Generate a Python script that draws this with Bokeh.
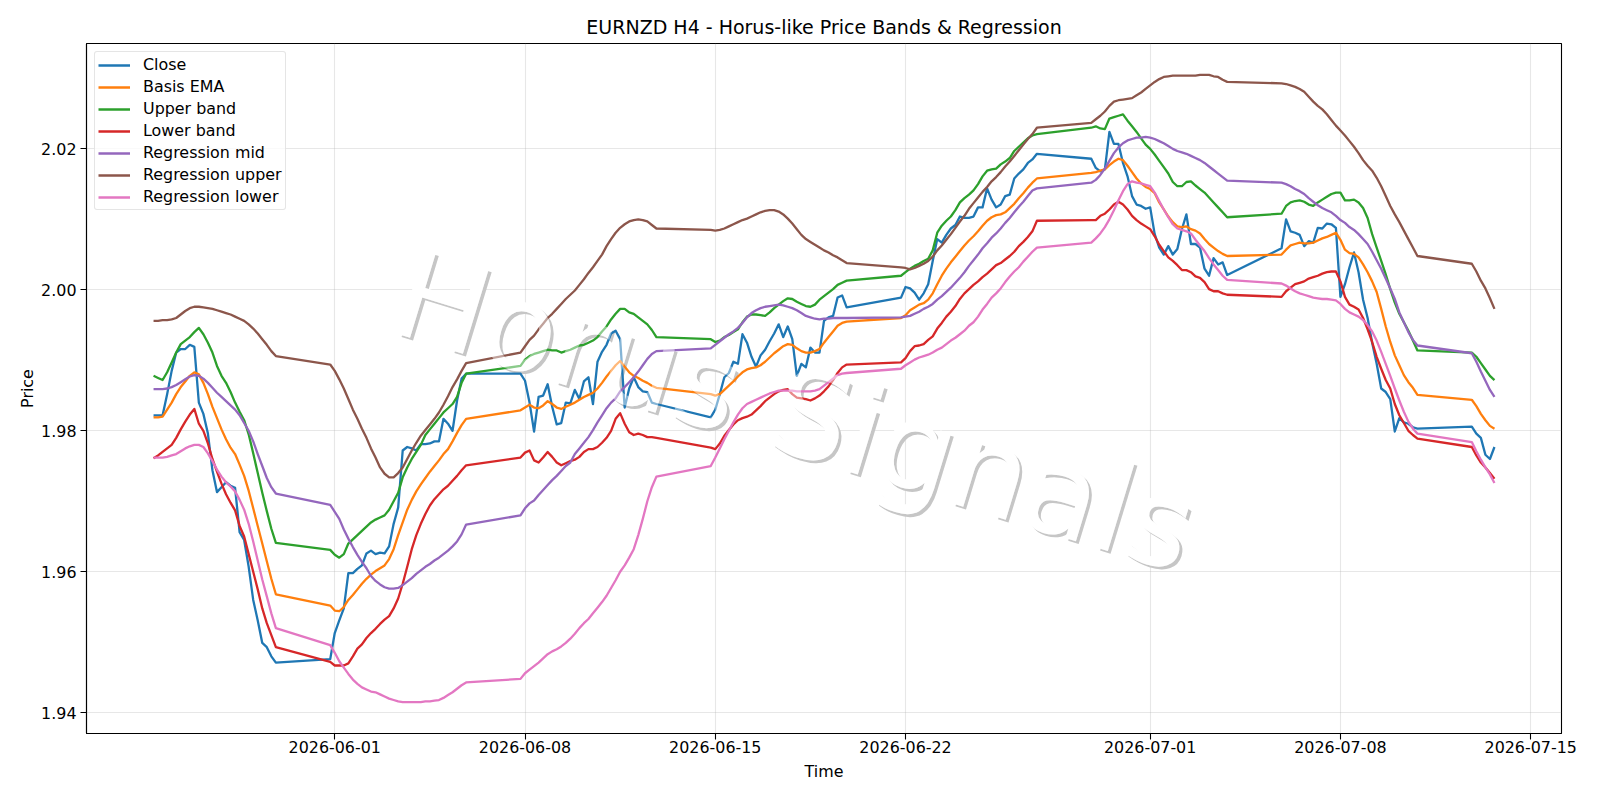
import numpy as np
import pandas as pd
from bokeh.plotting import figure
from bokeh.models import (Range1d, FixedTicker, DatetimeTickFormatter, PrintfTickFormatter,
                          Legend, LegendItem, ColumnDataSource)
from bokeh.embed import file_html
from bokeh.resources import INLINE
from bokeh.core.properties import value

# ---------------- data ----------------
# H4 bars: Mon-Fri plus the Sunday 20:00 open bar
_all = pd.date_range("2026-05-25 08:00", "2026-07-13 16:00", freq="4h")
time = _all[(_all.dayofweek < 5) | ((_all.dayofweek == 6) & (_all.hour == 20))]

close = [
    1.9822, 1.9822, 1.9822, 1.9852, 1.9885, 1.9911, 1.9916, 1.9916, 1.9922, 1.9919, 1.9840, 1.9824, 1.9796, 1.9744,
    1.9713, 1.9720, 1.9727, 1.9722, 1.9719, 1.9656, 1.9645, 1.9607, 1.9560, 1.9531, 1.9499, 1.9493, 1.9480, 1.9471,
    1.9476, 1.9513, 1.9531, 1.9548, 1.9598, 1.9598, 1.9604, 1.9609, 1.9626, 1.9630, 1.9625, 1.9627, 1.9626, 1.9636,
    1.9668, 1.9691, 1.9772, 1.9777, 1.9775, 1.9772, 1.9781, 1.9781, 1.9782, 1.9785, 1.9785, 1.9817, 1.9810, 1.9800,
    1.9843, 1.9874, 1.9881,
    1.9881, 1.9871, 1.9840, 1.9799, 1.9848, 1.9850, 1.9866, 1.9834, 1.9809, 1.9811, 1.9840, 1.9839, 1.9858, 1.9845,
    1.9870, 1.9876, 1.9838, 1.9898, 1.9912, 1.9922, 1.9938, 1.9942, 1.9930, 1.9833, 1.9860, 1.9876, 1.9862, 1.9856,
    1.9855, 1.9840, 1.9838,
    1.9819, 1.9830, 1.9852, 1.9876, 1.9882, 1.9898, 1.9895, 1.9937, 1.9925, 1.9905, 1.9891, 1.9907, 1.9915, 1.9927,
    1.9938, 1.9951, 1.9933, 1.9948, 1.9930, 1.9878, 1.9895, 1.9890, 1.9918, 1.9911, 1.9911, 1.9956, 1.9961, 1.9963,
    1.9989, 1.9992, 1.9975,
    1.9989, 2.0004, 2.0002, 1.9996, 1.9986, 1.9995, 2.0008, 2.0041, 2.0072, 2.0067, 2.0078, 2.0087, 2.0092, 2.0104,
    2.0102, 2.0102, 2.0104, 2.0117, 2.0117, 2.0144, 2.0128, 2.0117, 2.0121, 2.0133, 2.0135, 2.0158, 2.0165, 2.0171,
    2.0180, 2.0185, 2.0193,
    2.0186, 2.0173, 2.0168, 2.0171, 2.0224, 2.0207, 2.0207, 2.0180, 2.0161, 2.0133, 2.0121, 2.0119, 2.0115, 2.0117,
    2.0079, 2.0060, 2.0050, 2.0062, 2.0050, 2.0058, 2.0086, 2.0107, 2.0065, 2.0065, 2.0060, 2.0030, 2.0020, 2.0045,
    2.0036, 2.0039, 2.0021,
    2.0059, 2.0100, 2.0083, 2.0081, 2.0078, 2.0062, 2.0069, 2.0067, 2.0088, 2.0087, 2.0094, 2.0093, 2.0088, 1.9990,
    2.0008, 2.0032, 2.0053, 2.0025, 1.9986, 1.9960, 1.9925, 1.9895, 1.9860, 1.9855, 1.9845, 1.9799, 1.9818, 1.9812,
    1.9810, 1.9805, 1.9803,
    1.9806, 1.9796, 1.9790, 1.9766, 1.9760, 1.9777,
]

basis_ema = [
    1.9819, 1.9819, 1.9820, 1.9830, 1.9840, 1.9852, 1.9862, 1.9870, 1.9878, 1.9883, 1.9880, 1.9868, 1.9852, 1.9834,
    1.9818, 1.9802, 1.9788, 1.9776, 1.9767, 1.9752, 1.9736, 1.9715, 1.9690, 1.9665, 1.9640, 1.9615, 1.9590, 1.9568,
    1.9552, 1.9545, 1.9544, 1.9550, 1.9560, 1.9567, 1.9575, 1.9583, 1.9590, 1.9596, 1.9601, 1.9605, 1.9609, 1.9618,
    1.9632, 1.9652, 1.9670, 1.9688, 1.9702, 1.9714, 1.9724, 1.9733, 1.9742, 1.9750, 1.9758, 1.9767, 1.9774, 1.9785,
    1.9797, 1.9808, 1.9817,
    1.9829, 1.9833, 1.9837, 1.9833, 1.9832, 1.9836, 1.9842, 1.9838, 1.9833, 1.9831, 1.9834, 1.9837, 1.9840, 1.9844,
    1.9848, 1.9851, 1.9854, 1.9860, 1.9868, 1.9877, 1.9885, 1.9893, 1.9899, 1.9891, 1.9883, 1.9878, 1.9875, 1.9871,
    1.9868, 1.9864, 1.9861,
    1.9852, 1.9850, 1.9852, 1.9858, 1.9864, 1.9870, 1.9877, 1.9883, 1.9887, 1.9889, 1.9890, 1.9893, 1.9898, 1.9904,
    1.9910, 1.9915, 1.9920, 1.9923, 1.9922, 1.9917, 1.9913, 1.9911, 1.9911, 1.9913, 1.9916, 1.9925, 1.9933, 1.9941,
    1.9949, 1.9953, 1.9955,
    1.9960, 1.9964, 1.9971, 1.9975, 1.9979, 1.9981, 1.9986, 1.9995, 2.0008, 2.0020, 2.0030, 2.0039, 2.0047, 2.0055,
    2.0063, 2.0070, 2.0076, 2.0083, 2.0091, 2.0098, 2.0103, 2.0106, 2.0107, 2.0110, 2.0116, 2.0122, 2.0130, 2.0137,
    2.0145, 2.0152, 2.0158,
    2.0166, 2.0167, 2.0169, 2.0171, 2.0177, 2.0182, 2.0186, 2.0184, 2.0176, 2.0167, 2.0158, 2.0151, 2.0146, 2.0143,
    2.0137, 2.0124, 2.0114, 2.0104, 2.0096, 2.0090, 2.0089, 2.0090, 2.0086, 2.0084, 2.0080, 2.0072, 2.0065, 2.0060,
    2.0055, 2.0051, 2.0048,
    2.0050, 2.0057, 2.0063, 2.0065, 2.0067, 2.0066, 2.0066, 2.0067, 2.0070, 2.0073, 2.0075, 2.0078, 2.0081, 2.0071,
    2.0057, 2.0052, 2.0051, 2.0046, 2.0036, 2.0025, 2.0012, 1.9997, 1.9973, 1.9948, 1.9926, 1.9907, 1.9893, 1.9879,
    1.9869, 1.9861, 1.9851,
    1.9844, 1.9835, 1.9824, 1.9815, 1.9807, 1.9803,
]

upper_band = [
    1.9878, 1.9875, 1.9872, 1.9883, 1.9897, 1.9911, 1.9923, 1.9928, 1.9933, 1.9940, 1.9946, 1.9937, 1.9925, 1.9911,
    1.9892, 1.9878, 1.9868, 1.9855, 1.9840, 1.9827, 1.9815, 1.9795, 1.9768, 1.9740, 1.9712, 1.9686, 1.9661, 1.9641,
    1.9631, 1.9624, 1.9620, 1.9625, 1.9640, 1.9646, 1.9652, 1.9658, 1.9664, 1.9670, 1.9674, 1.9677, 1.9680, 1.9688,
    1.9700, 1.9712, 1.9734, 1.9748, 1.9760, 1.9770, 1.9780, 1.9794, 1.9802, 1.9810, 1.9818, 1.9826, 1.9832, 1.9838,
    1.9848, 1.9868, 1.9881,
    1.9892, 1.9901, 1.9906, 1.9909, 1.9911, 1.9913, 1.9915, 1.9914, 1.9914, 1.9911, 1.9913, 1.9915, 1.9918, 1.9921,
    1.9922, 1.9925, 1.9928, 1.9933, 1.9941, 1.9948, 1.9958, 1.9966, 1.9973, 1.9973, 1.9968, 1.9966, 1.9961, 1.9956,
    1.9951, 1.9943, 1.9933,
    1.9930, 1.9926, 1.9928, 1.9933, 1.9936, 1.9940, 1.9944, 1.9954, 1.9962, 1.9965, 1.9965, 1.9964, 1.9963, 1.9968,
    1.9974, 1.9979, 1.9984, 1.9988, 1.9987, 1.9983, 1.9980, 1.9977, 1.9976, 1.9979, 1.9986, 1.9991, 1.9996, 2.0001,
    2.0007, 2.0010, 2.0013,
    2.0020, 2.0025, 2.0030, 2.0034, 2.0037, 2.0041, 2.0044, 2.0056, 2.0081, 2.0091, 2.0098, 2.0104, 2.0113, 2.0124,
    2.0130, 2.0135, 2.0141, 2.0150, 2.0161, 2.0169, 2.0171, 2.0172, 2.0178, 2.0182, 2.0187, 2.0197, 2.0203, 2.0209,
    2.0215, 2.0219, 2.0221,
    2.0230, 2.0232, 2.0229, 2.0228, 2.0243, 2.0245, 2.0247, 2.0249, 2.0240, 2.0232, 2.0224, 2.0215, 2.0206, 2.0200,
    2.0192, 2.0183, 2.0174, 2.0165, 2.0153, 2.0147, 2.0147, 2.0153, 2.0154, 2.0148, 2.0143, 2.0138, 2.0131, 2.0124,
    2.0117, 2.0110, 2.0103,
    2.0108, 2.0119, 2.0124, 2.0126, 2.0127, 2.0125, 2.0121, 2.0119, 2.0124, 2.0128, 2.0132, 2.0136, 2.0138, 2.0138,
    2.0127, 2.0127, 2.0128, 2.0124, 2.0116, 2.0102, 2.0079, 2.0060, 2.0041, 2.0022, 2.0001, 1.9982, 1.9966, 1.9954,
    1.9942, 1.9928, 1.9914,
    1.9911, 1.9905, 1.9896, 1.9887, 1.9878, 1.9872,
]

lower_band = [
    1.9761, 1.9765, 1.9770, 1.9775, 1.9780, 1.9790, 1.9802, 1.9813, 1.9823, 1.9831, 1.9810, 1.9800, 1.9782, 1.9760,
    1.9742, 1.9725, 1.9710, 1.9698, 1.9687, 1.9665, 1.9650, 1.9625, 1.9600, 1.9575, 1.9548, 1.9527, 1.9510, 1.9493,
    1.9472, 1.9467, 1.9467, 1.9467, 1.9470, 1.9480, 1.9491, 1.9497, 1.9506, 1.9513, 1.9519, 1.9526, 1.9532, 1.9537,
    1.9548, 1.9562, 1.9583, 1.9607, 1.9632, 1.9652, 1.9668, 1.9682, 1.9694, 1.9703, 1.9710, 1.9717, 1.9722, 1.9729,
    1.9736, 1.9744, 1.9751,
    1.9762, 1.9769, 1.9772, 1.9758, 1.9755, 1.9762, 1.9770, 1.9763, 1.9755, 1.9751, 1.9754, 1.9757, 1.9759, 1.9763,
    1.9770, 1.9774, 1.9774, 1.9777, 1.9783, 1.9790, 1.9800, 1.9817, 1.9825, 1.9810, 1.9798, 1.9794, 1.9796, 1.9794,
    1.9791, 1.9791, 1.9790,
    1.9776, 1.9774, 1.9782, 1.9793, 1.9801, 1.9809, 1.9815, 1.9818, 1.9820, 1.9823, 1.9829, 1.9835, 1.9842, 1.9847,
    1.9852, 1.9856, 1.9858, 1.9859, 1.9852, 1.9847, 1.9846, 1.9845, 1.9843, 1.9846, 1.9850, 1.9856, 1.9863, 1.9872,
    1.9882, 1.9890, 1.9894,
    1.9897, 1.9903, 1.9913, 1.9920, 1.9921, 1.9923, 1.9929, 1.9934, 1.9945, 1.9953, 1.9962, 1.9969, 1.9977, 1.9987,
    1.9995, 2.0001, 2.0007, 2.0012, 2.0018, 2.0023, 2.0029, 2.0035, 2.0038, 2.0043, 2.0048, 2.0054, 2.0062, 2.0068,
    2.0075, 2.0083, 2.0098,
    2.0099, 2.0099, 2.0105, 2.0108, 2.0114, 2.0121, 2.0125, 2.0121, 2.0114, 2.0105, 2.0099, 2.0094, 2.0090, 2.0086,
    2.0076, 2.0064, 2.0055, 2.0046, 2.0041, 2.0035, 2.0028, 2.0028, 2.0025, 2.0019, 2.0017, 2.0011, 2.0001, 1.9998,
    1.9998, 1.9995, 1.9993,
    1.9990, 1.9998, 2.0003, 2.0008, 2.0010, 2.0012, 2.0016, 2.0018, 2.0020, 2.0023, 2.0025, 2.0026, 2.0026, 2.0012,
    1.9990, 1.9979, 1.9976, 1.9972, 1.9960, 1.9944, 1.9926, 1.9905, 1.9888, 1.9872, 1.9860, 1.9838, 1.9822, 1.9811,
    1.9800, 1.9794, 1.9789,
    1.9777, 1.9765, 1.9755, 1.9748, 1.9740, 1.9732,
]

regression_mid = [
    1.9859, 1.9859, 1.9859, 1.9860, 1.9862, 1.9865, 1.9869, 1.9873, 1.9877, 1.9879, 1.9878, 1.9874, 1.9868, 1.9861,
    1.9854, 1.9848, 1.9842, 1.9836, 1.9830, 1.9822, 1.9811, 1.9800, 1.9785, 1.9767, 1.9750, 1.9733, 1.9720, 1.9711,
    1.9695, 1.9685, 1.9675, 1.9660, 1.9647, 1.9635, 1.9624, 1.9614, 1.9605, 1.9594, 1.9587, 1.9582, 1.9578, 1.9576,
    1.9576, 1.9577, 1.9581, 1.9586, 1.9591, 1.9597, 1.9602, 1.9607, 1.9611, 1.9616, 1.9620, 1.9625, 1.9630, 1.9636,
    1.9643, 1.9653, 1.9667,
    1.9680, 1.9690, 1.9697, 1.9701, 1.9709, 1.9716, 1.9723, 1.9730, 1.9736, 1.9743, 1.9750, 1.9755, 1.9767, 1.9775,
    1.9783, 1.9791, 1.9801, 1.9812, 1.9822, 1.9832, 1.9840, 1.9846, 1.9856, 1.9862, 1.9869, 1.9876, 1.9884, 1.9893,
    1.9902, 1.9909, 1.9913,
    1.9917, 1.9922, 1.9927, 1.9932, 1.9937, 1.9941, 1.9946, 1.9953, 1.9961, 1.9967, 1.9971, 1.9974, 1.9976, 1.9977,
    1.9978, 1.9979, 1.9978, 1.9976, 1.9974, 1.9971, 1.9967, 1.9963, 1.9961, 1.9959, 1.9958, 1.9959, 1.9959, 1.9960,
    1.9960, 1.9960, 1.9960,
    1.9961, 1.9962, 1.9963, 1.9966, 1.9969, 1.9973, 1.9976, 1.9980, 1.9986, 1.9991, 1.9997, 2.0003, 2.0010, 2.0017,
    2.0025, 2.0034, 2.0042, 2.0050, 2.0059, 2.0066, 2.0074, 2.0080, 2.0087, 2.0095, 2.0102, 2.0110, 2.0118, 2.0125,
    2.0133, 2.0141, 2.0144,
    2.0152, 2.0156, 2.0163, 2.0172, 2.0183, 2.0194, 2.0202, 2.0208, 2.0212, 2.0214, 2.0216, 2.0216, 2.0217, 2.0216,
    2.0214, 2.0211, 2.0208, 2.0204, 2.0200, 2.0197, 2.0195, 2.0193, 2.0190, 2.0187, 2.0184, 2.0180, 2.0175, 2.0170,
    2.0165, 2.0160, 2.0155,
    2.0152, 2.0150, 2.0147, 2.0143, 2.0140, 2.0136, 2.0130, 2.0125, 2.0120, 2.0116, 2.0113, 2.0110, 2.0105, 2.0099,
    2.0095, 2.0089, 2.0085, 2.0079, 2.0072, 2.0065, 2.0054, 2.0042, 2.0030, 2.0016, 2.0002, 1.9987, 1.9968, 1.9954,
    1.9940, 1.9929, 1.9921,
    1.9910, 1.9898, 1.9884, 1.9871, 1.9858, 1.9848,
]

regression_upper = [
    1.9956, 1.9956, 1.9957, 1.9957, 1.9958, 1.9960, 1.9965, 1.9970, 1.9974, 1.9976, 1.9976, 1.9975, 1.9974, 1.9973,
    1.9971, 1.9969, 1.9967, 1.9965, 1.9962, 1.9959, 1.9956, 1.9951, 1.9945, 1.9938, 1.9930, 1.9922, 1.9913, 1.9906,
    1.9894, 1.9885, 1.9873, 1.9860, 1.9845, 1.9830, 1.9817, 1.9803, 1.9790, 1.9775, 1.9762, 1.9748, 1.9739, 1.9734,
    1.9734, 1.9740, 1.9748, 1.9760, 1.9772, 1.9783, 1.9793, 1.9801, 1.9809, 1.9817, 1.9826, 1.9837, 1.9849, 1.9862,
    1.9873, 1.9885, 1.9896,
    1.9911, 1.9920, 1.9929, 1.9935, 1.9944, 1.9952, 1.9960, 1.9966, 1.9973, 1.9980, 1.9987, 1.9993, 1.9999, 2.0007,
    2.0015, 2.0024, 2.0032, 2.0041, 2.0050, 2.0062, 2.0072, 2.0081, 2.0088, 2.0093, 2.0097, 2.0099, 2.0100, 2.0099,
    2.0097, 2.0092, 2.0087,
    2.0085, 2.0084, 2.0085, 2.0087, 2.0090, 2.0093, 2.0096, 2.0099, 2.0101, 2.0104, 2.0107, 2.0110, 2.0112, 2.0113,
    2.0113, 2.0111, 2.0107, 2.0101, 2.0094, 2.0086, 2.0078, 2.0072, 2.0068, 2.0064, 2.0060, 2.0056, 2.0053, 2.0049,
    2.0046, 2.0042, 2.0038,
    2.0032, 2.0031, 2.0029, 2.0031, 2.0034, 2.0037, 2.0041, 2.0047, 2.0056, 2.0063, 2.0071, 2.0079, 2.0088, 2.0097,
    2.0105, 2.0115, 2.0123, 2.0131, 2.0139, 2.0146, 2.0154, 2.0160, 2.0167, 2.0175, 2.0182, 2.0190, 2.0198, 2.0206,
    2.0214, 2.0221, 2.0230,
    2.0237, 2.0242, 2.0247, 2.0253, 2.0261, 2.0267, 2.0269, 2.0270, 2.0271, 2.0272, 2.0276, 2.0280, 2.0285, 2.0290,
    2.0295, 2.0299, 2.0302, 2.0303, 2.0304, 2.0304, 2.0304, 2.0304, 2.0304, 2.0304, 2.0305, 2.0305, 2.0305, 2.0303,
    2.0302, 2.0298, 2.0295,
    2.0293, 2.0292, 2.0290, 2.0288, 2.0285, 2.0281, 2.0274, 2.0267, 2.0261, 2.0256, 2.0249, 2.0241, 2.0233, 2.0226,
    2.0219, 2.0211, 2.0203, 2.0194, 2.0184, 2.0176, 2.0169, 2.0159, 2.0147, 2.0133, 2.0119, 2.0107, 2.0096, 2.0084,
    2.0072, 2.0060, 2.0048,
    2.0037, 2.0026, 2.0013, 2.0002, 1.9988, 1.9973,
]

regression_lower = [
    1.9762, 1.9762, 1.9762, 1.9763, 1.9765, 1.9767, 1.9771, 1.9775, 1.9778, 1.9780, 1.9780, 1.9777, 1.9768, 1.9757,
    1.9745, 1.9735, 1.9727, 1.9721, 1.9714, 1.9702, 1.9688, 1.9668, 1.9643, 1.9616, 1.9589, 1.9565, 1.9541, 1.9520,
    1.9496, 1.9485, 1.9473, 1.9464, 1.9455, 1.9447, 1.9441, 1.9436, 1.9433, 1.9430, 1.9429, 1.9426, 1.9423, 1.9420,
    1.9418, 1.9416, 1.9415, 1.9415, 1.9415, 1.9415, 1.9415, 1.9416, 1.9416, 1.9417, 1.9418, 1.9421, 1.9425, 1.9429,
    1.9434, 1.9439, 1.9443,
    1.9448, 1.9456, 1.9461, 1.9466, 1.9471, 1.9477, 1.9483, 1.9487, 1.9490, 1.9494, 1.9499, 1.9505, 1.9512, 1.9520,
    1.9527, 1.9533, 1.9541, 1.9549, 1.9557, 1.9566, 1.9577, 1.9588, 1.9600, 1.9609, 1.9620, 1.9632, 1.9652, 1.9675,
    1.9700, 1.9720, 1.9735,
    1.9750, 1.9762, 1.9775, 1.9788, 1.9800, 1.9812, 1.9823, 1.9832, 1.9838, 1.9841, 1.9844, 1.9847, 1.9850, 1.9853,
    1.9855, 1.9857, 1.9857, 1.9857, 1.9857, 1.9856, 1.9856, 1.9856, 1.9856, 1.9857, 1.9859, 1.9864, 1.9869, 1.9874,
    1.9879, 1.9881, 1.9882,
    1.9888, 1.9893, 1.9897, 1.9901, 1.9904, 1.9906, 1.9908, 1.9911, 1.9915, 1.9918, 1.9923, 1.9928, 1.9932, 1.9937,
    1.9942, 1.9949, 1.9954, 1.9962, 1.9972, 1.9980, 1.9989, 1.9995, 2.0002, 2.0011, 2.0019, 2.0026, 2.0032, 2.0040,
    2.0047, 2.0054, 2.0060,
    2.0067, 2.0073, 2.0080, 2.0089, 2.0100, 2.0113, 2.0127, 2.0140, 2.0150, 2.0154, 2.0152, 2.0151, 2.0149, 2.0147,
    2.0138, 2.0126, 2.0114, 2.0103, 2.0093, 2.0087, 2.0085, 2.0083, 2.0080, 2.0071, 2.0063, 2.0055, 2.0045, 2.0036,
    2.0028, 2.0020, 2.0014,
    2.0009, 2.0006, 2.0002, 1.9998, 1.9995, 1.9993, 1.9991, 1.9989, 1.9988, 1.9987, 1.9987, 1.9986, 1.9985, 1.9980,
    1.9973, 1.9968, 1.9965, 1.9962, 1.9957, 1.9950, 1.9941, 1.9928, 1.9912, 1.9895, 1.9878, 1.9860, 1.9843, 1.9827,
    1.9813, 1.9803, 1.9796,
    1.9784, 1.9771, 1.9759, 1.9748, 1.9738, 1.9726,
]

series_names = ["Close", "Basis EMA", "Upper band", "Lower band",
                "Regression mid", "Regression upper", "Regression lower"]
series_values = [close, basis_ema, upper_band, lower_band,
                 regression_mid, regression_upper, regression_lower]
series_colors = ["#1f77b4", "#ff7f0e", "#2ca02c", "#d62728", "#9467bd", "#8c564b", "#e377c2"]

x_tick_dates = ["2026-06-01", "2026-06-08", "2026-06-15", "2026-06-22",
                "2026-07-01", "2026-07-08", "2026-07-15"]
y_ticks = [1.94, 1.96, 1.98, 2.00, 2.02]

title_text = "EURNZD H4 - Horus-like Price Bands & Regression"
watermark_text = "Horus Signals"

for v in series_values:
    assert len(v) == len(time), (len(v), len(time))

# ---------------- figure ----------------
FONT = "DejaVu Sans"
FS = "15.9px"

def ms(ts):
    return pd.Timestamp(ts).value / 1e6

t0, t1 = ms(time[0]), ms(time[-1])
xpad = 0.05 * (t1 - t0)
all_vals = np.concatenate([np.asarray(v) for v in series_values])
ymin, ymax = all_vals.min(), all_vals.max()
ypad = 0.05 * (ymax - ymin)

p = figure(width=1600, height=800, x_axis_type="datetime",
           x_range=Range1d(t0 - xpad, t1 + xpad),
           y_range=Range1d(ymin - ypad, ymax + ypad),
           output_backend="svg", toolbar_location=None,
           min_border_left=86, min_border_right=39, min_border_top=43, min_border_bottom=67)

p.background_fill_color = "white"
p.border_fill_color = "white"
p.outline_line_color = "black"
p.outline_line_width = 1.1

p.title.text = title_text
p.title.align = "center"
p.title.text_font = FONT
p.title.text_font_size = "19px"
p.title.text_font_style = "normal"
p.title.text_color = "black"
p.title.standoff = 12

# watermark placement (fractions of the plot frame)
wm_fx, wm_fy = 0.4805, 0.466
wx = (t0 - xpad) + wm_fx * ((t1 + xpad) - (t0 - xpad))
wy = (ymin - ypad) + wm_fy * ((ymax + ypad) - (ymin - ypad))
wm_kw = dict(text=[watermark_text], angle=-17, angle_units="deg",
             text_align="center", text_baseline="alphabetic",
             text_font=value(FONT), text_font_size="121px")

# shadow + opaque white body under the lines
p.text(x=[wx], y=[wy], text_color="#c6c6c6", x_offset=2.8, y_offset=2.8, **wm_kw)
p.text(x=[wx], y=[wy], text_color="white", **wm_kw)

src = ColumnDataSource(dict(time=time, **{f"s{i}": v for i, v in enumerate(series_values)}))

items = []
for i, (name, col) in enumerate(zip(series_names, series_colors)):
    r = p.line(x="time", y=f"s{i}", source=src, line_color=col, line_width=2.3, line_join="round")
    items.append(LegendItem(label=name, renderers=[r]))

# translucent white body over the lines
p.text(x=[wx], y=[wy], text_color="white", text_alpha=0.45, **wm_kw)

legend = Legend(items=items, location="top_left")
legend.margin = 8
legend.padding = 3
legend.spacing = 3
legend.glyph_width = 32
legend.glyph_height = 16
legend.label_height = 16
legend.label_standoff = 13
legend.label_text_font = FONT
legend.label_text_font_size = FS
legend.label_text_color = "black"
legend.border_line_color = "#cccccc"
legend.border_line_width = 1
legend.background_fill_color = "white"
legend.background_fill_alpha = 0.8
try:
    legend.border_radius = 3
except Exception:
    pass
p.add_layout(legend)

# axes
p.xaxis.ticker = FixedTicker(ticks=[ms(d) for d in x_tick_dates])
p.xaxis.formatter = DatetimeTickFormatter(
    milliseconds="%Y-%m-%d", seconds="%Y-%m-%d", minsec="%Y-%m-%d", minutes="%Y-%m-%d",
    hourmin="%Y-%m-%d", hours="%Y-%m-%d", days="%Y-%m-%d", months="%Y-%m-%d", years="%Y-%m-%d")
p.yaxis.ticker = FixedTicker(ticks=y_ticks)
p.yaxis.formatter = PrintfTickFormatter(format="%.2f")

p.xaxis.axis_label = "Time"
p.yaxis.axis_label = "Price"
for ax in (p.xaxis[0], p.yaxis[0]):
    ax.axis_label_text_font = FONT
    ax.axis_label_text_font_size = FS
    ax.axis_label_text_font_style = "normal"
    ax.axis_label_text_color = "black"
    ax.major_label_text_font = FONT
    ax.major_label_text_font_size = FS
    ax.major_label_text_color = "black"
    ax.major_tick_out = 6
    ax.major_tick_in = 0
    ax.minor_tick_out = 0
    ax.minor_tick_in = 0
    ax.major_tick_line_color = "black"
    ax.major_tick_line_width = 1.1
    ax.axis_line_color = "black"
    ax.axis_line_width = 1.1
p.xaxis.major_label_standoff = 1
p.yaxis.major_label_standoff = 4
p.xaxis.axis_label_standoff = 6
p.yaxis.axis_label_standoff = 1

p.xgrid.ticker = p.xaxis[0].ticker
p.ygrid.ticker = p.yaxis[0].ticker
p.grid.grid_line_color = "#b0b0b0"
p.grid.grid_line_alpha = 0.3
p.grid.grid_line_width = 1.1

open("out.html", "w").write(file_html(p, INLINE))
